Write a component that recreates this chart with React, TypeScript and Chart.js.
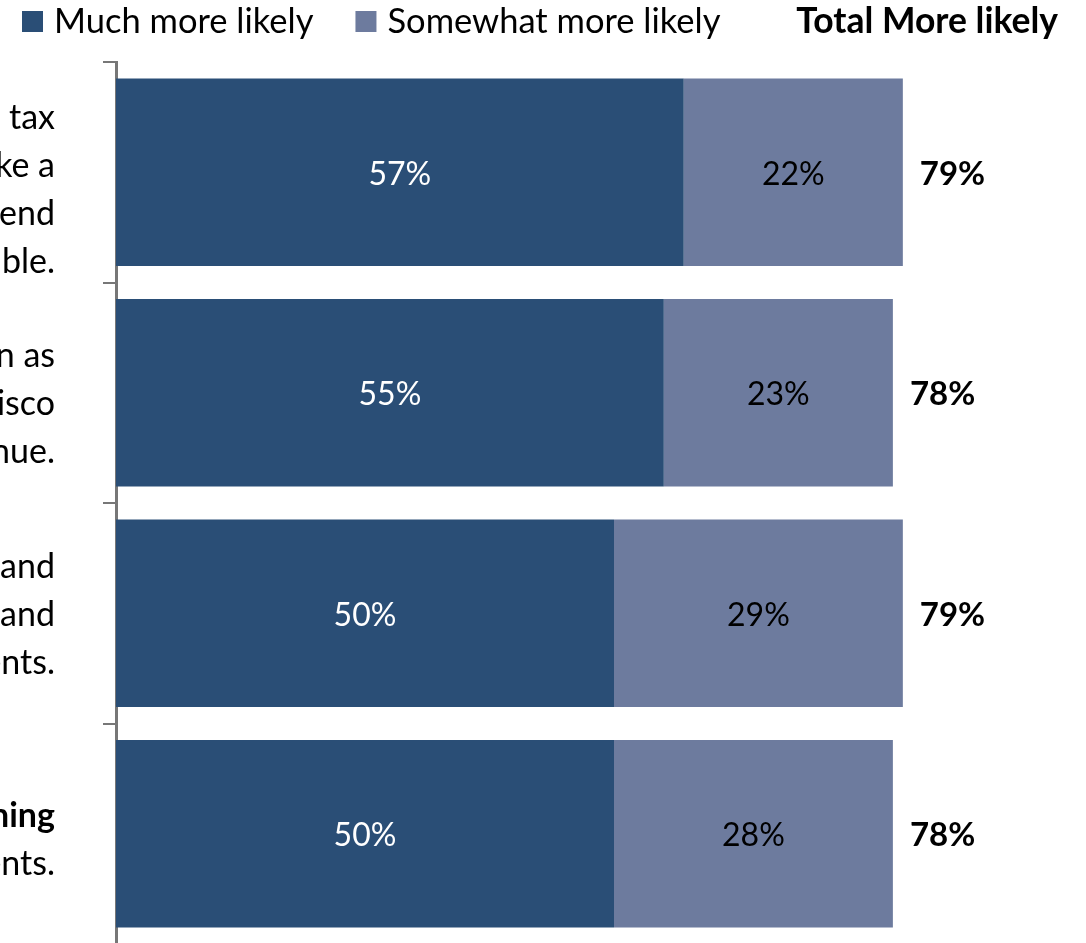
import React, { useEffect, useRef } from "react";
import { Chart, registerables } from "chart.js";

Chart.register(...registerables);

// ---- data ----
const categoryLines: string[][] = [
  ["Lowering the sales tax", "would make a", "difference in how I spend", "and be more affordable."],
  ["Projects are seen as", "those in San Francisco", "raise revenue."],
  ["Improving streets and", "roads, parks and", "services for residents."],
  ["Funding planning", "for residents."],
];
const categoryBoldLine = [-1, -1, -1, 0];
const seriesNames = ["Much more likely", "Somewhat more likely"];
const muchMore = [57, 55, 50, 50];
const somewhatMore = [22, 23, 29, 28];
const totalMore = [79, 78, 79, 78];
const totalHeader = "Total More likely";

// ---- styles ----
const colors = ["#2A4E76", "#6D7B9E"];
const labelColors = ["#FFFFFF", "#000000"];
const FONT = "Lato, 'Open Sans', sans-serif";
const labelNudge = [18, 11, 2, 6];

const drawPlugin = {
  id: "customText",
  afterDatasetsDraw(chart: any) {
    const ctx = chart.ctx;
    const ys = chart.scales.y;
    const area = chart.chartArea;
    ctx.save();
    ctx.textBaseline = "middle";

    // segment value labels
    chart.data.datasets.forEach((ds: any, di: number) => {
      const meta = chart.getDatasetMeta(di);
      meta.data.forEach((bar: any, i: number) => {
        ctx.font = `32px ${FONT}`;
        ctx.fillStyle = labelColors[di];
        ctx.textAlign = "center";
        ctx.fillText(ds.data[i] + "%", (bar.base + bar.x) / 2, bar.y + 2);
      });
    });

    // totals
    const lastMeta = chart.getDatasetMeta(chart.data.datasets.length - 1);
    lastMeta.data.forEach((bar: any, i: number) => {
      ctx.font = `bold 33px ${FONT}`;
      ctx.fillStyle = "#000";
      ctx.textAlign = "left";
      ctx.fillText(totalMore[i] + "%", bar.x + 17, bar.y + 2);
    });

    // category labels (right aligned, clipped at left edge)
    const lh = 48;
    categoryLines.forEach((lines, i) => {
      const cy = ys.getPixelForValue(i) + labelNudge[i];
      const top = cy - ((lines.length - 1) * lh) / 2;
      lines.forEach((t, j) => {
        ctx.font = `${categoryBoldLine[i] === j ? "bold " : ""}34px ${FONT}`;
        ctx.fillStyle = "#000";
        ctx.textAlign = "right";
        ctx.fillText(t, area.left - 61, top + j * lh);
      });
    });

    // legend
    let x = 22;
    const ly = 21;
    chart.data.datasets.forEach((ds: any) => {
      ctx.fillStyle = ds.backgroundColor;
      ctx.fillRect(x, ly - 10, 21, 21);
      ctx.font = `34.5px ${FONT}`;
      ctx.fillStyle = "#000";
      ctx.textAlign = "left";
      ctx.fillText(ds.label, x + 32, ly + 1);
      x = x + 32 + ctx.measureText(ds.label).width + 42;
    });
    ctx.font = `bold 35.5px ${FONT}`;
    ctx.textAlign = "right";
    ctx.fillText(totalHeader, 1058, ly + 1);
    ctx.restore();
  },
};

export default function App() {
  const ref = useRef<HTMLCanvasElement | null>(null);
  useEffect(() => {
    if (!ref.current) return;
    const chart = new Chart(ref.current, {
      type: "bar",
      data: {
        labels: categoryLines,
        datasets: [
          { label: seriesNames[0], data: muchMore, backgroundColor: colors[0], borderWidth: 0 },
          { label: seriesNames[1], data: somewhatMore, backgroundColor: colors[1], borderWidth: 0 },
        ],
      },
      options: {
        indexAxis: "y",
        responsive: false,
        animation: false,
        layout: { padding: { top: 62, bottom: 16, left: 0, right: 0 } },
        plugins: { legend: { display: false }, tooltip: { enabled: false } },
        datasets: { bar: { barPercentage: 0.85, categoryPercentage: 1 } },
        scales: {
          x: {
            stacked: true,
            min: 0,
            max: 100,
            display: false,
          },
          y: {
            stacked: true,
            afterFit: (s: any) => {
              s.width = 116;
            },
            ticks: { display: false },
            grid: {
              offset: true,
              drawOnChartArea: false,
              drawTicks: true,
              tickLength: 13,
              color: "#777",
              lineWidth: 2,
            },
            border: { display: true, color: "#777", width: 3 },
          },
        },
      },
      plugins: [drawPlugin],
    });
    return () => chart.destroy();
  }, []);
  return (
    <div style={{ position: "fixed", left: 0, top: 0, width: 1086, height: 943, overflow: "hidden", background: "#fff" }}>
      <canvas ref={ref} width={1112} height={960} style={{ display: "block" }} />
    </div>
  );
}
